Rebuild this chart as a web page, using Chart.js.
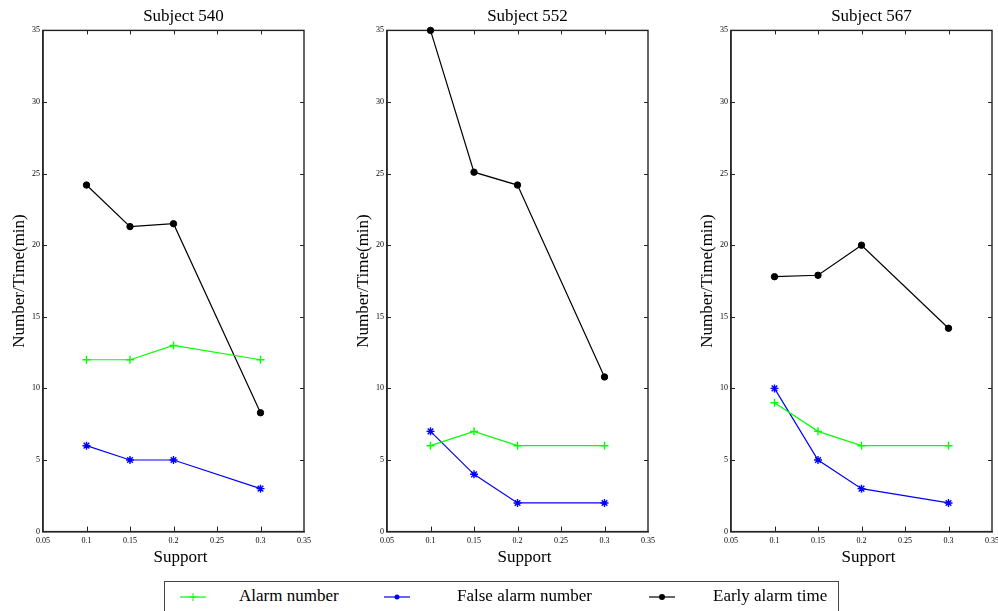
<!DOCTYPE html>
<html>
<head>
<meta charset="utf-8">
<title>Alarm results by support</title>
<script src="https://cdn.jsdelivr.net/npm/chart.js@4.4.1/dist/chart.umd.min.js"></script>
<style>
  html, body { margin: 0; padding: 0; background: #fff; overflow: hidden; }
  body { width: 998px; height: 611px; position: relative; font-family: 'Liberation Serif', 'Times New Roman', serif; }
  .plot { position: absolute; top: 0; }
  #legend { position: absolute; left: 164px; top: 581px; width: 675px; height: 40px;
            border: 1px solid #444; box-sizing: border-box; background: #fff; }
  .leg-mark { position: absolute; top: 7px; }
  .leg-text { position: absolute; top: 3px; font-size: 17px; color: #000; line-height: 22px; white-space: nowrap; }
</style>
</head>
<body>
<canvas class="plot" id="plot0" width="366" height="575" style="left:0px"></canvas>
<canvas class="plot" id="plot1" width="366" height="575" style="left:344px"></canvas>
<canvas class="plot" id="plot2" width="366" height="575" style="left:688px"></canvas>

<div id="legend">
  <svg class="leg-mark" style="left:15px" width="27" height="16"><line x1="0" y1="8" x2="26" y2="8" stroke="#00ff00" stroke-width="1.2"/><line x1="13" y1="4" x2="13" y2="12" stroke="#00ff00"/><line x1="9" y1="8" x2="17" y2="8" stroke="#00ff00"/></svg>
  <span class="leg-text" style="left:74px">Alarm number</span>
  <svg class="leg-mark" style="left:219px" width="27" height="16"><line x1="0" y1="8" x2="26" y2="8" stroke="#0000ff" stroke-width="1.2"/><circle cx="13" cy="8" r="2.5" fill="#0000ff"/></svg>
  <span class="leg-text" style="left:292px">False alarm number</span>
  <svg class="leg-mark" style="left:484px" width="27" height="16"><line x1="0" y1="8" x2="26" y2="8" stroke="#000" stroke-width="1.2"/><circle cx="13" cy="8" r="3" fill="#000"/></svg>
  <span class="leg-text" style="left:548px">Early alarm time</span>
</div>

<script>
const SERIF = "'Liberation Serif', 'Times New Roman', serif";

/* ── Data ─────────────────────────────────────────────── */
const supportValues  = [0.1, 0.15, 0.2, 0.3];
const subjectTitles  = ['Subject 540', 'Subject 552', 'Subject 567'];

const alarmNumber540 = [12, 12, 13, 12];
const falseAlarm540  = [6, 5, 5, 3];
const earlyTime540   = [24.2, 21.3, 21.5, 8.3];

const alarmNumber552 = [6, 7, 6, 6];
const falseAlarm552  = [7, 4, 2, 2];
const earlyTime552   = [35, 25.1, 24.2, 10.8];

const alarmNumber567 = [9, 7, 6, 6];
const falseAlarm567  = [10, 5, 3, 2];
const earlyTime567   = [17.8, 17.9, 20, 14.2];

const xTickValues = [0.05, 0.1, 0.15, 0.2, 0.25, 0.3, 0.35];
const yTickValues = [0, 5, 10, 15, 20, 25, 30, 35];

const seriesLabels = ['Alarm number', 'False alarm number', 'Early alarm time'];
const subjectSeries = [
  [alarmNumber540, falseAlarm540, earlyTime540],
  [alarmNumber552, falseAlarm552, earlyTime552],
  [alarmNumber567, falseAlarm567, earlyTime567]
];

/* ── Frame with inward ticks ──────────────────────────── */
const frameTicks = {
  id: 'frameTicks',
  afterLayout(chart) {
    // titles sit a little right of the plot centre in the original
    const a = chart.chartArea;
    chart.boxes.forEach(b => {
      const text = b.options && b.options.text;
      if (text === 'Support') { b.left = a.left + 7; b.right = a.right + 7; }
      else if (subjectTitles.includes(text)) { b.left = a.left + 10; b.right = a.right + 10; }
    });
  },
  beforeDatasetsDraw(chart) {
    const { ctx, chartArea: a, scales: { x, y } } = chart;
    ctx.save();
    ctx.strokeStyle = '#222';
    ctx.lineWidth = 1.4;
    ctx.strokeRect(a.left, a.top, a.right - a.left, a.bottom - a.top);
    ctx.lineWidth = 1;
    const seg = (x1, y1, x2, y2) => { ctx.beginPath(); ctx.moveTo(x1, y1); ctx.lineTo(x2, y2); ctx.stroke(); };
    x.ticks.forEach(t => {
      if (t.value <= x.min || t.value >= x.max) return;
      const px = Math.round(x.getPixelForValue(t.value)) + 0.5;
      seg(px, a.bottom, px, a.bottom - 5);
      seg(px, a.top, px, a.top + 4);
    });
    y.ticks.forEach(t => {
      if (t.value <= y.min || t.value >= y.max) return;
      const py = Math.round(y.getPixelForValue(t.value)) + 0.5;
      seg(a.left, py, a.left + 4, py);
      seg(a.right, py, a.right - 4, py);
    });
    ctx.restore();
  }
};

function makeDataset(label, values, color, style, radius) {
  return {
    label,
    data: supportValues.map((x, i) => ({ x, y: values[i] })),
    showLine: true,
    borderColor: color,
    backgroundColor: color,
    borderWidth: 1.2,
    pointStyle: style,
    pointRadius: radius,
    pointBorderWidth: style === 'circle' ? 1 : 1.4,
    clip: false
  };
}

function buildChart(idx) {
  const [alarm, falseAlarm, early] = subjectSeries[idx];
  return new Chart(document.getElementById('plot' + idx), {
    type: 'scatter',
    data: {
      datasets: [
        makeDataset(seriesLabels[0], alarm, '#00ff00', 'cross', 4),
        makeDataset(seriesLabels[1], falseAlarm, '#0000ff', 'star', 4),
        makeDataset(seriesLabels[2], early, '#000000', 'circle', 3.2)
      ]
    },
    options: {
      responsive: false,
      animation: false,
      layout: { padding: { right: 62 } },
      plugins: {
        legend: { display: false },
        tooltip: { enabled: false },
        title: {
          display: true,
          text: subjectTitles[idx],
          color: '#000',
          font: { family: SERIF, size: 17, weight: 'normal' },
          padding: { top: 6, bottom: 4 }
        },
        subtitle: {
          display: true,
          position: 'bottom',
          text: 'Support',
          color: '#000',
          font: { family: SERIF, size: 17, weight: 'normal' },
          padding: { top: 0, bottom: 7 }
        }
      },
      scales: {
        x: {
          type: 'linear',
          min: 0.05,
          max: 0.35,
          afterBuildTicks: s => { s.ticks = xTickValues.map(v => ({ value: v })); },
          afterFit: s => { s.height = 16; },
          grid: { display: false, drawTicks: false },
          border: { display: true, color: '#333', width: 1.5 },
          ticks: {
            color: '#000', padding: 5, maxRotation: 0, autoSkip: false,
            font: { family: SERIF, size: 8 },
            callback: v => String(+v.toFixed(2))
          }
        },
        y: {
          min: 0,
          max: 35,
          afterBuildTicks: s => { s.ticks = yTickValues.map(v => ({ value: v })); },
          afterFit: s => { s.width = 43; },
          grid: { display: false, drawTicks: false },
          border: { display: true, color: '#333', width: 1.5 },
          ticks: {
            color: '#000', padding: 3, autoSkip: false,
            font: { family: SERIF, size: 8 }
          },
          title: {
            display: true, text: 'Number/Time(min)', color: '#000',
            font: { family: SERIF, size: 17 },
            padding: { top: 9, bottom: 0 }
          }
        }
      }
    },
    plugins: [frameTicks]
  });
}

subjectTitles.forEach((_, i) => buildChart(i));
</script>
</body>
</html>
